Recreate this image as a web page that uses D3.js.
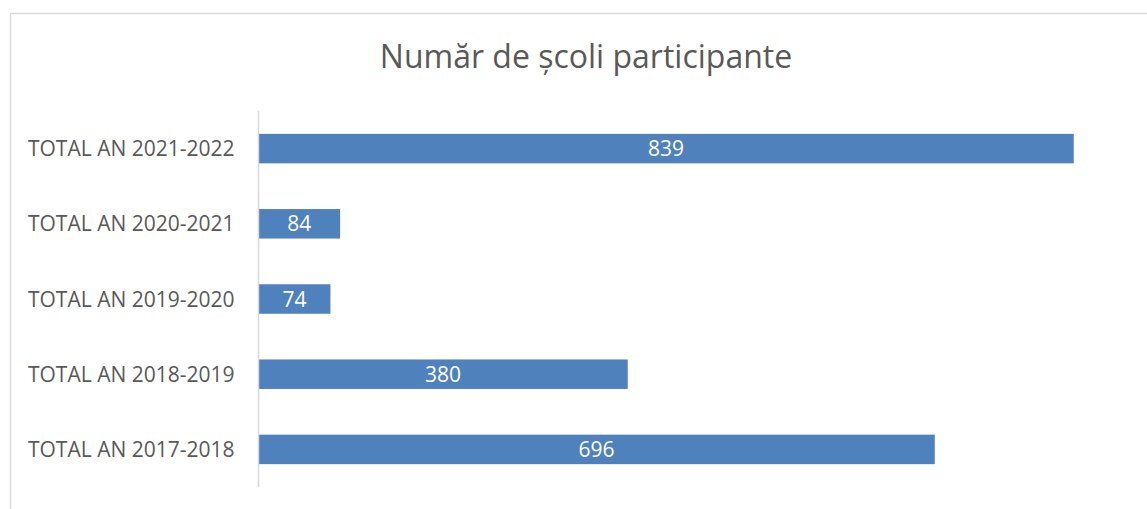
<!DOCTYPE html>
<html><head><meta charset="utf-8">
<script src="https://cdn.jsdelivr.net/npm/d3@7"></script>
<style>html,body{margin:0;padding:0;background:#fff;}svg{display:block;}</style>
</head><body>
<svg id="c" width="1147" height="509"></svg>
<script>
const title = "Număr de școli participante";
const categories = ["TOTAL AN 2021-2022","TOTAL AN 2020-2021","TOTAL AN 2019-2020","TOTAL AN 2018-2019","TOTAL AN 2017-2018"];
const values = [839, 84, 74, 380, 696];
const xMax = 900;

const svg = d3.select("#c");
const W = 1147, H = 509;
const font = "'Open Sans', sans-serif";

// chart border
svg.append("rect").attr("x",10.5).attr("y",13.5).attr("width",W+20).attr("height",H+20)
  .attr("fill","#fff").attr("stroke","#d9d9d9").attr("stroke-width",1.5);

const plot = {left:258.5, right:1133, top:111, bottom:487};
const x = d3.scaleLinear().domain([0,xMax]).range([plot.left, plot.right]);
const y = d3.scaleBand().domain(categories).range([plot.top, plot.bottom]).paddingInner(0.608).paddingOuter(0.304);

svg.append("text").attr("x",586).attr("y",68).attr("text-anchor","middle")
  .attr("font-family",font).attr("font-size",32).attr("fill","#595959").text(title);

svg.selectAll("rect.bar").data(values).join("rect").attr("class","bar")
  .attr("x",x(0)).attr("y",(d,i)=>y(categories[i]))
  .attr("width",d=>x(d)-x(0)).attr("height",y.bandwidth()).attr("fill","#4f81bd");

// y axis
const ax = svg.append("g").attr("transform",`translate(${plot.left},0)`)
  .call(d3.axisLeft(y).tickSize(0).tickPadding(24));
ax.select(".domain").attr("stroke","#d9d9d9").attr("stroke-width",1.5)
  .attr("d",`M0,${plot.top}V${plot.bottom}`);
ax.selectAll("text").attr("font-family",font).attr("font-size",21).attr("fill","#595959")
  .attr("dy","0.36em");

svg.selectAll("text.val").data(values).join("text").attr("class","val")
  .attr("x",d=>(x(0)+x(d))/2).attr("y",(d,i)=>y(categories[i])+y.bandwidth()/2)
  .attr("dy","0.36em").attr("text-anchor","middle")
  .attr("font-family",font).attr("font-size",21).attr("fill","#fff").text(d=>d);
</script>
</body></html>
